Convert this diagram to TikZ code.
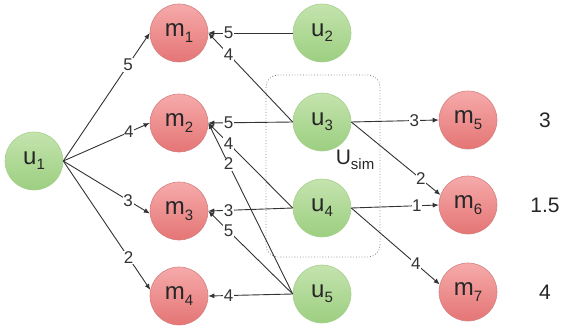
\documentclass[tikz,border=0pt]{standalone}
\usepackage{fontspec}
\setmainfont{Liberation Sans}
\usetikzlibrary{arrows.meta}
\newcommand\lowsub[1]{\raisebox{-0.22em}{\fontsize{15}{15}\selectfont #1}}
\definecolor{redfillA}{HTML}{F6AAAA}
\definecolor{redfillB}{HTML}{E57575}
\definecolor{redline}{HTML}{D68080}
\definecolor{grnfillA}{HTML}{C4E3AE}
\definecolor{grnfillB}{HTML}{9CCF80}
\definecolor{grnline}{HTML}{A8D090}
\definecolor{edgecol}{HTML}{333333}
\tikzset{
  mnode/.style={circle, minimum size=58pt, inner sep=0pt, draw=redline, line width=0.6pt,
    top color=redfillA, bottom color=redfillB, font=\fontsize{24}{24}\selectfont, text=black!85},
  unode/.style={circle, minimum size=58pt, inner sep=0pt, draw=grnline, line width=0.6pt,
    top color=grnfillA, bottom color=grnfillB, font=\fontsize{24}{24}\selectfont, text=black!85},
  conn/.style={draw=edgecol, line width=0.9pt, -{Latex[length=6pt,width=5pt]}},
  wlab/.style={fill=white, inner sep=0.6pt, font=\fontsize{17}{17}\selectfont, text=edgecol},
  sidelab/.style={font=\fontsize{21}{21}\selectfont, text=black!85},
  simbox/.style={draw=gray, dotted, line width=0.8pt, rounded corners=12pt}
}
\begin{document}
\begin{tikzpicture}[x=1pt,y=-1pt]
\useasboundingbox (0,0) rectangle (565,329);
% similarity box
\draw[simbox] (266,75) rectangle (380,257);
\node[font=\fontsize{21}{21}\selectfont, text=black!85] (usim) at (355,160) {U\lowsub{sim}};
% nodes
\node[unode] (u1) at (34,161) {u\lowsub{1}};
\node[mnode] (m1) at (179,33) {m\lowsub{1}};
\node[mnode] (m2) at (179,123) {m\lowsub{2}};
\node[mnode] (m3) at (179,211) {m\lowsub{3}};
\node[mnode] (m4) at (179,296) {m\lowsub{4}};
\node[unode] (u2) at (322,33) {u\lowsub{2}};
\node[unode] (u3) at (322,122) {u\lowsub{3}};
\node[unode] (u4) at (322,208) {u\lowsub{4}};
\node[unode] (u5) at (322,294) {u\lowsub{5}};
\node[mnode] (m5) at (468,120) {m\lowsub{5}};
\node[mnode] (m6) at (468,205) {m\lowsub{6}};
\node[mnode] (m7) at (468,292) {m\lowsub{7}};
\node[sidelab] (s5) at (545,120) {3};
\node[sidelab] (s6) at (545,205) {1.5};
\node[sidelab] (s7) at (545,292) {4};
% u1 edges
\draw[conn] (u1.east) -- node[wlab, pos=0.75] {5} (m1.west);
\draw[conn] (u1.east) -- node[wlab, pos=0.76] {4} (m2.west);
\draw[conn] (u1.east) -- node[wlab, pos=0.75] {3} (m3.185);
\draw[conn] (u1.east) -- node[wlab, pos=0.75] {2} (m4.168);
% left-pointing edges
\draw[conn] (u2.west) -- node[wlab, pos=0.76] {5} (m1.east);
\draw[conn] (u3.west) -- node[wlab, pos=0.76] {4} (m1.east);
\draw[conn] (u3.west) -- node[wlab, pos=0.76] {5} (m2.east);
\draw[conn] (u4.west) -- node[wlab, pos=0.76] {4} (m2.east);
\draw[conn] (u5.west) -- node[wlab, pos=0.76] {2} (m2.east);
\draw[conn] (u4.west) -- node[wlab, pos=0.76] {3} (m3.east);
\draw[conn] (u5.west) -- node[wlab, pos=0.76] {5} (m3.east);
\draw[conn] (u5.west) -- node[wlab, pos=0.76] {4} (m4.east);
% right-pointing edges
\draw[conn] (u3.east) -- node[wlab, pos=0.72] {3} (m5.west);
\draw[conn] (u3.east) -- node[wlab, pos=0.78] {2} (m6.160);
\draw[conn] (u4.east) -- node[wlab, pos=0.75] {1} (m6.west);
\draw[conn] (u4.east) -- node[wlab, pos=0.73] {4} (m7.165);
\end{tikzpicture}
\end{document}
